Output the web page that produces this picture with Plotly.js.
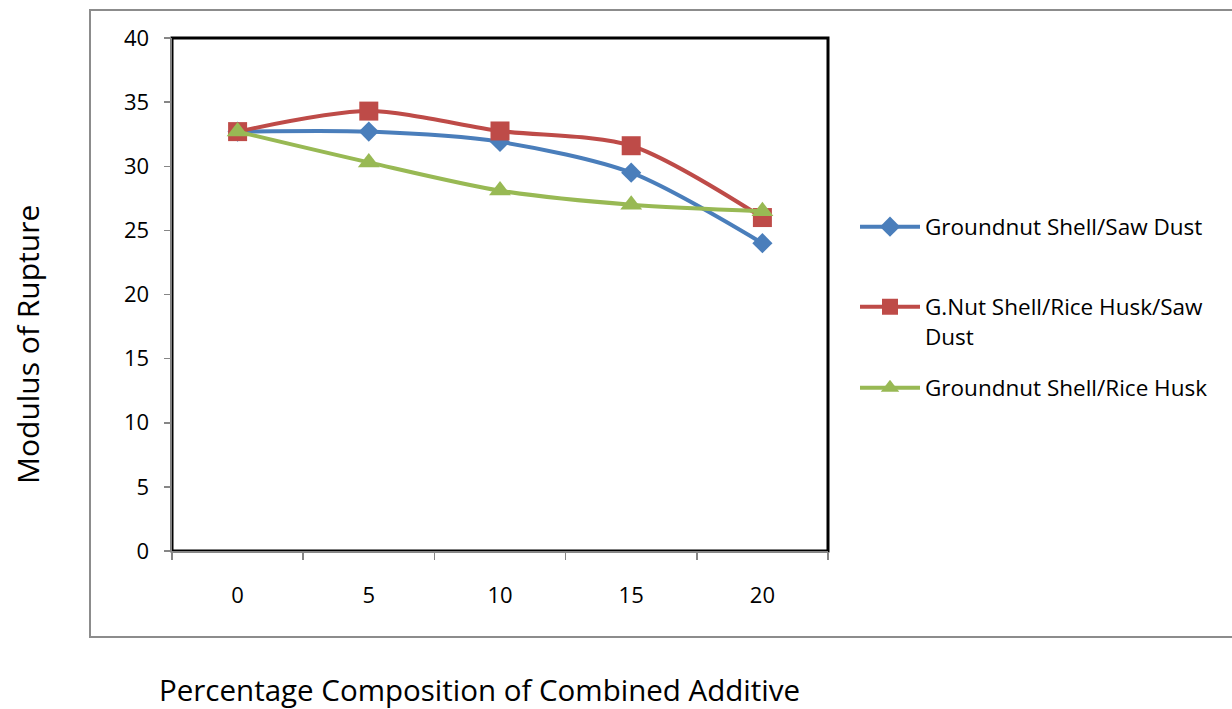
<!DOCTYPE html>
<html>
<head>
<meta charset="utf-8">
<script src="https://cdn.plot.ly/plotly-3.0.1.min.js"></script>
<style>html,body{margin:0;padding:0;background:#fff;}#chart{width:1232px;height:709px;}</style>
</head>
<body>
<div id="chart"></div>
<script>
const categories = ['0', '5', '10', '15', '20'];
const groundnutSawDust = [32.7, 32.7, 31.9, 29.5, 24.0];
const gnutRiceHuskSawDust = [32.7, 34.3, 32.75, 31.6, 26.0];
const groundnutRiceHusk = [32.7, 30.3, 28.1, 27.0, 26.5];
const seriesNames = ['Groundnut Shell/Saw Dust', 'G.Nut Shell/Rice Husk/Saw<br>Dust', 'Groundnut Shell/Rice Husk'];

const FONT = '"Open Sans", sans-serif';
const py = p => (551 - p) / 513;
const px = p => (p - 172) / 656;

function trace(y, name, color, symbol, size, leg) {
  return {
    x: categories, y: y, name: name, type: 'scatter', mode: 'lines+markers',
    line: {color: color, width: 4, shape: 'spline', smoothing: 0.8},
    marker: {color: color, symbol: symbol, size: size},
    legend: leg
  };
}

const data = [
  trace(groundnutSawDust, seriesNames[0], '#4A7EBB', 'diamond', 15.5, 'legend'),
  trace(gnutRiceHuskSawDust, seriesNames[1], '#BE4B48', 'square', 19, 'legend2'),
  trace(groundnutRiceHusk, seriesNames[2], '#98B954', 'triangle-up', 19, 'legend3')
];

function leg(ycenter) {
  return {
    x: px(855), y: py(ycenter), xanchor: 'left', yanchor: 'middle',
    valign: 'top', itemwidth: 60,
    font: {family: FONT, size: 22.5, color: '#000'},
    bgcolor: 'rgba(0,0,0,0)'
  };
}

const layout = {
  width: 1232, height: 709,
  margin: {l: 172, r: 404, t: 38, b: 158},
  paper_bgcolor: '#fff', plot_bgcolor: '#fff',
  font: {family: FONT, size: 22, color: '#000'},
  showlegend: true,
  legend: leg(227),
  legend2: leg(307 + 14.5),
  legend3: leg(388),
  xaxis: {
    type: 'category', range: [-0.5, 4.5],
    tickson: 'boundaries', ticks: 'outside', ticklen: 7, tickcolor: '#868686', tickwidth: 1.5,
    showline: true, linecolor: '#868686', linewidth: 1.5,
    showgrid: false, zeroline: false,
    ticklabelstandoff: 24,
    tickfont: {family: FONT, size: 22, color: '#000'}
  },
  yaxis: {
    range: [0, 40], dtick: 5, tick0: 0,
    ticks: 'outside', ticklen: 7, tickcolor: '#868686', tickwidth: 1.5,
    showline: true, linecolor: '#868686', linewidth: 1.5,
    showgrid: false, zeroline: false,
    ticklabelstandoff: 10,
    tickfont: {family: FONT, size: 22, color: '#000'}
  },
  shapes: [
    {type: 'rect', xref: 'paper', yref: 'paper', x0: 0, x1: 1, y0: 0, y1: 1,
     line: {color: '#000', width: 3}, layer: 'below'},
    {type: 'rect', xref: 'paper', yref: 'paper',
     x0: px(90), x1: px(1240), y0: py(637), y1: py(10),
     line: {color: '#8C8C8C', width: 2}, layer: 'below'}
  ],
  annotations: [
    {text: 'Percentage Composition of Combined Additive', xref: 'paper', yref: 'paper',
     x: px(479), y: py(712), xanchor: 'center', yanchor: 'bottom',
     showarrow: false, font: {family: FONT, size: 29.5, color: '#000'}},
    {text: 'Modulus of Rupture', xref: 'paper', yref: 'paper',
     x: px(27), y: py(345), xanchor: 'center', yanchor: 'middle',
     textangle: -90, showarrow: false, font: {family: FONT, size: 30, color: '#000'}}
  ]
};

Plotly.newPlot('chart', data, layout, {displayModeBar: false, staticPlot: true});
</script>
</body>
</html>
